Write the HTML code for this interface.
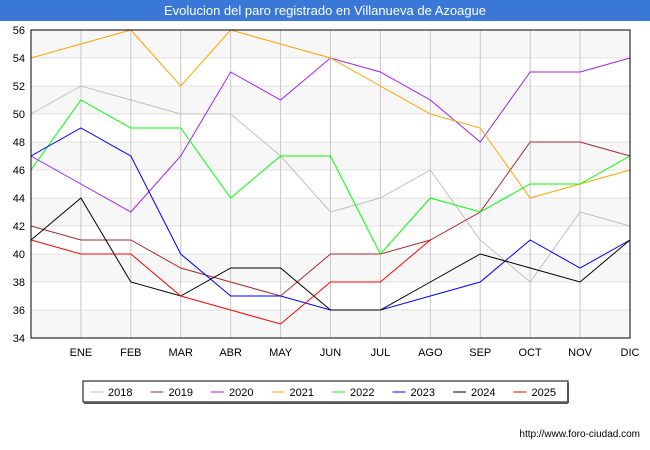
<!DOCTYPE html>
<html><head><meta charset="utf-8"><style>
body{margin:0;width:650px;height:450px;background:#fff;font-family:"Liberation Sans",sans-serif;overflow:hidden}
</style></head><body>
<svg width="650" height="450" style="position:absolute;left:0;top:0">
<rect x="0" y="0" width="650" height="21" fill="#3a78d8"/>
<text x="325" y="15" text-anchor="middle" font-size="13" fill="#fff">Evolucion del paro registrado en Villanueva de Azoague</text>
<g id="bands"></g><g id="grid"></g><g id="series"></g>
<rect x="31" y="30" width="599" height="308" fill="none" stroke="#000" stroke-width="1"/>
<g id="ylab"></g><g id="xlab"></g>
<g>
<rect x="83" y="381" width="485" height="21" fill="#fff" stroke="#000"/>
<line x1="568" y1="383" x2="568" y2="403" stroke="#555" stroke-width="2"/>
<line x1="84" y1="403" x2="568" y2="403" stroke="#555" stroke-width="2"/>
<g id="legend"></g></g>
<text x="640" y="437" text-anchor="end" font-size="10" fill="#000">http://www.foro-ciudad.com</text>
</svg>
<script>
const months=["","ENE","FEB","MAR","ABR","MAY","JUN","JUL","AGO","SEP","OCT","NOV","DIC"];
const yTicks=[34,36,38,40,42,44,46,48,50,52,54,56];
const years=["2018","2019","2020","2021","2022","2023","2024","2025"];
const colors=["#c0c0c0","#a52a2a","#a020f0","#ffa500","#00ff00","#0000ff","#000000","#ff0000"];
const s2018=[50,52,51,50,50,47,43,44,46,41,38,43,42];
const s2019=[42,41,41,39,38,37,40,40,41,43,48,48,47];
const s2020=[47,45,43,47,53,51,54,53,51,48,53,53,54];
const s2021=[54,55,56,52,56,55,54,52,50,49,44,45,46];
const s2022=[46,51,49,49,44,47,47,40,44,43,45,45,47];
const s2023=[47,49,47,40,37,37,36,36,37,38,41,39,41];
const s2024=[41,44,38,37,39,39,36,36,38,40,39,38,41];
const s2025=[41,40,40,37,36,35,38,38,41];
const series=[s2018,s2019,s2020,s2021,s2022,s2023,s2024,s2025];
const NS="http://www.w3.org/2000/svg";
const X0=31,X1=630,Y0=338,Y1=30,ymin=34,ymax=56;
const xs=i=>X0+i*(X1-X0)/(months.length-1);
const ys=v=>Y0-(v-ymin)*(Y0-Y1)/(ymax-ymin);
function mk(t,a,p){const e=document.createElementNS(NS,t);for(const k in a)e.setAttribute(k,a[k]);p.appendChild(e);return e;}
const bands=document.getElementById('bands'),grid=document.getElementById('grid');
for(let i=0;i<yTicks.length-1;i++){
  if((yTicks.length-2-i)%2===0){const r=mk('rect',{x:X0,y:ys(yTicks[i+1]),width:X1-X0,height:ys(yTicks[i])-ys(yTicks[i+1]),fill:'#f7f7f7'},bands);
  
  }
}
const yl=document.getElementById('ylab');
yTicks.forEach(v=>{const l=mk('line',{x1:X0,x2:X1,y1:ys(v),y2:ys(v),stroke:'#e0e0e0'},grid);


const t=mk('text',{x:25,y:ys(v)+4,'text-anchor':'end','font-size':'11'},yl);t.textContent=v;

});
const xl=document.getElementById('xlab');
months.forEach((m,i)=>{const l=mk('line',{x1:xs(i),x2:xs(i),y1:Y1,y2:Y0,stroke:'#c8c8c8'},grid);


const t=mk('text',{x:xs(i),y:356,'text-anchor':'middle','font-size':'11'},xl);t.textContent=m;

});
const sg=document.getElementById('series');
series.forEach((s,k)=>{const p=mk('polyline',{points:s.map((v,i)=>xs(i)+','+ys(v)).join(' '),fill:'none',stroke:colors[k],'stroke-width':1},sg);

});
const lg=document.getElementById('legend');
years.forEach((y,k)=>{const x=90+k*60.5;
const l=mk('line',{x1:x,x2:x+13,y1:392,y2:392,stroke:colors[k],'stroke-width':1},lg);


const t=mk('text',{x:x+18,y:396,'font-size':'11'},lg);t.textContent=y;

});
</script>
</body></html>
